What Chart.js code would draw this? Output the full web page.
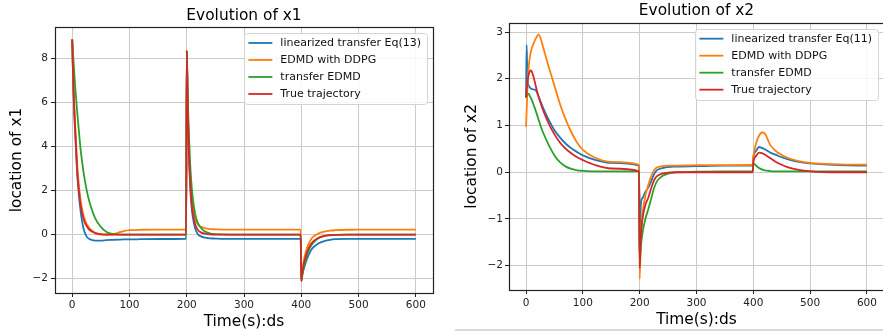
<!DOCTYPE html>
<html>
<head>
<meta charset="utf-8">
<script src="https://cdn.jsdelivr.net/npm/chart.js@4.4.0/dist/chart.umd.min.js"></script>
<style>
    html, body { margin: 0; padding: 0; background: #fff; overflow: hidden; }
    .box { position: absolute; top: 0; }
    #wrap1 { left: 0; }
    #wrap2 { left: 440px; }
    #edge { position: absolute; left: 455px; top: 329px; width: 428px; height: 0; border-top: 2px solid #d9d9d9; }
</style>
</head>
<body>
<div id="wrap1" class="box"><canvas id="chart1" width="440" height="332"></canvas></div>
<div id="wrap2" class="box"><canvas id="chart2" width="444" height="332"></canvas></div>
<div id="edge"></div>
<script>
// temps (ds) pour x1
var times1 = [0, 2, 5, 8, 10, 15, 20, 25, 30, 40, 50, 60, 70, 80, 90, 100, 120, 150, 199,
    200, 202, 204, 206, 208, 210, 215, 220, 225, 230, 240, 250, 260, 300, 350, 399,
    400, 402, 405, 410, 415, 420, 430, 440, 450, 460, 480, 500, 550, 600];

var linX1 = [8.85, 6.7, 4.7, 3.1, 2.3, 1.0, 0.25, -0.08, -0.2, -0.27, -0.27, -0.25, -0.24, -0.23, -0.22, -0.22, -0.21, -0.2, -0.19,
    8.35, 5.4, 3.5, 2.2, 1.4, 0.9, 0.25, 0.0, -0.08, -0.13, -0.17, -0.18, -0.19, -0.19, -0.19, -0.19,
    -2.1, -1.8, -1.5, -1.1, -0.8, -0.6, -0.4, -0.3, -0.24, -0.21, -0.19, -0.19, -0.19, -0.19];
var ddpgX1 = [8.85, 6.9, 5.1, 3.5, 2.7, 1.5, 0.85, 0.5, 0.3, 0.08, 0.0, -0.02, 0.0, 0.08, 0.16, 0.2, 0.22, 0.23, 0.23,
    8.35, 5.6, 3.8, 2.6, 1.8, 1.3, 0.7, 0.45, 0.35, 0.3, 0.25, 0.24, 0.23, 0.23, 0.23, 0.23,
    -2.1, -1.6, -1.1, -0.6, -0.3, -0.12, 0.05, 0.13, 0.18, 0.2, 0.22, 0.23, 0.23, 0.23];
var transX1 = [8.85, 8.0, 6.8, 5.8, 5.2, 3.8, 2.8, 2.05, 1.5, 0.75, 0.35, 0.12, 0.03, 0.01, 0, 0, 0, 0, 0,
    8.35, 6.0, 4.4, 3.2, 2.4, 1.8, 0.9, 0.5, 0.3, 0.17, 0.06, 0.02, 0.01, 0, 0, 0,
    -2.1, -1.8, -1.4, -0.9, -0.6, -0.4, -0.17, -0.07, -0.03, -0.01, 0, 0, 0, 0];
var trueX1 = [8.85, 6.8, 4.9, 3.3, 2.5, 1.3, 0.7, 0.4, 0.22, 0.07, 0.02, 0.01, 0, 0, 0, 0, 0, 0, 0,
    8.35, 5.5, 3.6, 2.4, 1.6, 1.1, 0.45, 0.2, 0.1, 0.05, 0.01, 0, 0, 0, 0, 0,
    -2.1, -1.7, -1.25, -0.8, -0.5, -0.33, -0.14, -0.06, -0.025, -0.01, 0, 0, 0, 0];

// temps (ds) pour x2
var times2 = [0, 1, 2, 3, 5, 8, 10, 14, 18, 22, 26, 30, 40, 50, 60, 70, 80, 90, 100, 120, 150, 199,
    200, 202, 205, 210, 215, 220, 225, 230, 240, 250, 260, 300, 350, 399,
    400, 405, 410, 415, 420, 430, 440, 450, 460, 480, 500, 550, 600];

var linX2 = [1.6, 2.72, 2.25, 1.95, 1.85, 1.8, 1.78, 1.77, 1.74, 1.62, 1.5, 1.38, 1.12, 0.9, 0.74, 0.61, 0.51, 0.43, 0.36, 0.27, 0.2, 0.14,
    -2.0, -0.7, -0.55, -0.42, -0.33, -0.2, -0.05, 0.04, 0.09, 0.11, 0.12, 0.13, 0.14, 0.14,
    0.32, 0.46, 0.54, 0.52, 0.49, 0.42, 0.37, 0.32, 0.28, 0.22, 0.19, 0.15, 0.14];
var ddpgX2 = [0.97, 1.3, 1.65, 1.95, 2.3, 2.55, 2.65, 2.78, 2.88, 2.95, 2.85, 2.68, 2.25, 1.85, 1.45, 1.12, 0.85, 0.63, 0.48, 0.32, 0.22, 0.16,
    -2.28, -1.4, -0.9, -0.5, -0.28, -0.1, 0.04, 0.1, 0.13, 0.14, 0.14, 0.15, 0.15, 0.16,
    0.33, 0.62, 0.78, 0.85, 0.83, 0.58, 0.45, 0.37, 0.31, 0.24, 0.2, 0.17, 0.16];
var transX2 = [1.6, 1.64, 1.67, 1.68, 1.67, 1.6, 1.55, 1.42, 1.28, 1.13, 0.98, 0.85, 0.58, 0.36, 0.21, 0.12, 0.07, 0.04, 0.03, 0.02, 0.02, 0.02,
    -1.95, -1.6, -1.3, -1.0, -0.8, -0.58, -0.35, -0.2, -0.08, -0.03, -0.01, 0.01, 0.02, 0.02,
    0.19, 0.14, 0.09, 0.06, 0.04, 0.025, 0.02, 0.02, 0.02, 0.02, 0.02, 0.02, 0.02];
var trueX2 = [1.6, 1.75, 1.88, 1.98, 2.1, 2.18, 2.16, 2.0, 1.8, 1.62, 1.47, 1.33, 1.04, 0.81, 0.63, 0.5, 0.4, 0.32, 0.26, 0.16, 0.08, 0.02,
    -2.05, -1.4, -1.0, -0.7, -0.55, -0.35, -0.18, -0.09, -0.03, -0.01, 0, 0, 0, 0,
    0.2, 0.35, 0.42, 0.41, 0.38, 0.3, 0.22, 0.16, 0.11, 0.05, 0.02, 0, 0];

var xTicks = [0, 100, 200, 300, 400, 500, 600];
var yTicks1 = [-2, 0, 2, 4, 6, 8];
var yTicks2 = [-2, -1, 0, 1, 2, 3];

var names1 = ["linearized transfer Eq(13)", "EDMD with DDPG", "transfer EDMD", "True trajectory"];
var names2 = ["linearized transfer Eq(11)", "EDMD with DDPG", "transfer EDMD", "True trajectory"];
var colors = ["#1f77b4", "#ff7f0e", "#2ca02c", "#d62728"];

var FONT = "'DejaVu Sans', sans-serif";

function toPoints(times, values) {
    return times.map(function (t, i) { return { x: t, y: values[i] }; });
}

function fmt(v) {
    return v < 0 ? "\u2212" + Math.abs(v) : String(v);
}

// cadre noir autour de la zone du graphique
var framePlugin = {
    id: "frame",
    afterDatasetsDraw: function (chart) {
        var a = chart.chartArea, ctx = chart.ctx;
        ctx.save();
        ctx.strokeStyle = "#222";
        ctx.lineWidth = 1.2;
        ctx.strokeRect(Math.round(a.left) + 0.5, Math.round(a.top) + 0.5,
            Math.round(a.right - a.left), Math.round(a.bottom - a.top));
        ctx.restore();
    }
};

// légende style matplotlib en haut à droite
var legendPlugin = {
    id: "mplLegend",
    afterDraw: function (chart) {
        var a = chart.chartArea, ctx = chart.ctx;
        var sets = chart.data.datasets;
        ctx.save();
        ctx.font = "11px " + FONT;
        var w = 0;
        sets.forEach(function (d) { w = Math.max(w, ctx.measureText(d.label).width); });
        var boxW = 36 + w + 6, boxH = sets.length * 17 + 3;
        var x0 = a.right - 6 - boxW, y0 = a.top + 6;
        ctx.fillStyle = "rgba(255,255,255,0.85)";
        ctx.strokeStyle = "#d4d4d4";
        ctx.lineWidth = 1;
        ctx.beginPath();
        ctx.roundRect(Math.round(x0) + 0.5, Math.round(y0) + 0.5, Math.round(boxW), boxH, 3);
        ctx.fill();
        ctx.stroke();
        sets.forEach(function (d, i) {
            var y = y0 + 10 + i * 17;
            ctx.strokeStyle = d.borderColor;
            ctx.lineWidth = 1.8;
            ctx.beginPath();
            ctx.moveTo(x0 + 4, y);
            ctx.lineTo(x0 + 28, y);
            ctx.stroke();
            ctx.fillStyle = "#111";
            ctx.textBaseline = "middle";
            ctx.fillText(d.label, x0 + 36, y);
        });
        ctx.restore();
    }
};

function makeChart(id, cfg) {
    var series = [cfg.lin, cfg.ddpg, cfg.trans, cfg.truth];
    var datasets = series.map(function (vals, i) {
        return {
            label: cfg.names[i],
            data: toPoints(cfg.times, vals),
            borderColor: colors[i],
            backgroundColor: colors[i],
            borderWidth: 1.8,
            pointRadius: 0,
            cubicInterpolationMode: "monotone",
            fill: false,
            order: 3 - i
        };
    });
    return new Chart(document.getElementById(id).getContext("2d"), {
        type: "line",
        data: { datasets: datasets },
        plugins: [framePlugin, legendPlugin],
        options: {
            responsive: false,
            animation: false,
            layout: { padding: cfg.pad },
            plugins: {
                legend: { display: false },
                tooltip: { enabled: false },
                title: {
                    display: true,
                    text: cfg.title,
                    fullSize: false,
                    color: "#000",
                    font: { family: FONT, size: 15.4, weight: "normal" },
                    padding: cfg.titlePad
                }
            },
            scales: {
                x: {
                    type: "linear",
                    min: -30,
                    max: 630,
                    afterBuildTicks: function (s) { s.ticks = xTicks.map(function (v) { return { value: v }; }); },
                    afterFit: function (s) { s.height = cfg.xHeight; },
                    border: { display: false },
                    grid: { color: "#cbcbcb", lineWidth: 1, tickLength: 4, tickColor: "#222" },
                    ticks: {
                        color: "#222",
                        font: { family: FONT, size: 10.5 },
                        padding: cfg.xTickPad,
                        maxRotation: 0,
                        autoSkip: false,
                        callback: fmt
                    },
                    title: {
                        display: true,
                        text: "Time(s):ds",
                        color: "#000",
                        font: { family: FONT, size: 15.4 },
                        padding: { top: 0, bottom: cfg.xTitlePad }
                    }
                },
                y: {
                    type: "linear",
                    min: cfg.yMin,
                    max: cfg.yMax,
                    afterBuildTicks: function (s) { s.ticks = cfg.yTicks.map(function (v) { return { value: v }; }); },
                    afterFit: function (s) { s.width = cfg.yWidth; },
                    border: { display: false },
                    grid: { color: "#cbcbcb", lineWidth: 1, tickLength: 4, tickColor: "#222" },
                    ticks: {
                        color: "#222",
                        font: { family: FONT, size: 10.5 },
                        padding: cfg.yTickPad,
                        autoSkip: false,
                        callback: fmt
                    },
                    title: {
                        display: true,
                        text: cfg.yLabel,
                        color: "#000",
                        font: { family: FONT, size: 15.4 },
                        padding: { top: cfg.yTitlePad, bottom: 0 }
                    }
                }
            }
        }
    });
}

var chart1 = makeChart("chart1", {
    times: times1, lin: linX1, ddpg: ddpgX1, trans: transX1, truth: trueX1,
    names: names1, title: "Evolution of x1", yLabel: "location of x1",
    yMin: -2.65, yMax: 9.42, yTicks: yTicks1,
    pad: { left: 0, right: 7, top: 0, bottom: 0 },
    titlePad: { top: 6.5, bottom: 2 },
    xHeight: 39, xTickPad: 2, xTitlePad: 0.3,
    yWidth: 55, yTickPad: 3, yTitlePad: 8
});

var chart2 = makeChart("chart2", {
    times: times2, lin: linX2, ddpg: ddpgX2, trans: transX2, truth: trueX2,
    names: names2, title: "Evolution of x2", yLabel: "location of x2",
    yMin: -2.52, yMax: 3.2, yTicks: yTicks2,
    pad: { left: 0, right: 0, top: 0, bottom: 0 },
    titlePad: { top: 1.5, bottom: 2.7 },
    xHeight: 42, xTickPad: 2.7, xTitlePad: 2.8,
    yWidth: 69, yTickPad: 2, yTitlePad: 23
});
</script>
</body>
</html>
